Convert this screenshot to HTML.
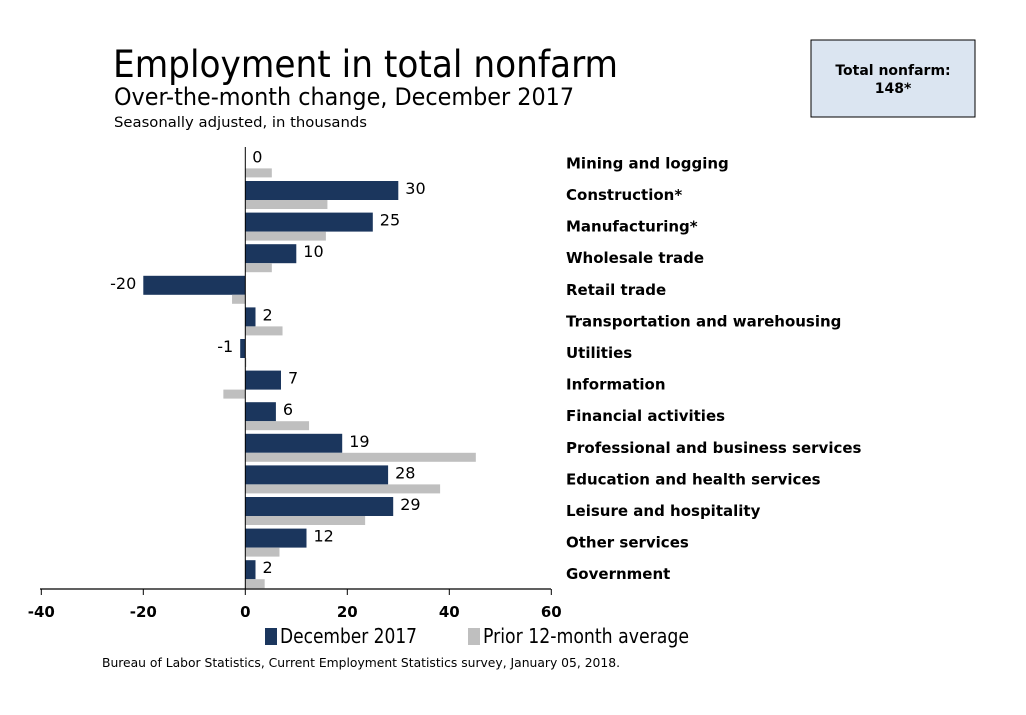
<!DOCTYPE html>
<html><head><meta charset="utf-8"><style>
body{margin:0;background:#fff;width:1026px;height:715px;overflow:hidden;font-family:"DejaVu Sans","Liberation Sans",sans-serif}
svg{position:absolute;left:0;top:0}
</style></head><body>
<svg width="1026" height="715">
<text x="113" y="77" font-family="DejaVu Sans Condensed, DejaVu Sans, sans-serif" font-size="37" textLength="505" lengthAdjust="spacingAndGlyphs" fill="#000">Employment in total nonfarm</text>
<text x="114" y="105" font-family="DejaVu Sans Condensed, DejaVu Sans, sans-serif" font-size="24" textLength="460" lengthAdjust="spacingAndGlyphs" fill="#000">Over-the-month change, December 2017</text>
<text x="114" y="127" font-size="14" fill="#000" textLength="253" lengthAdjust="spacingAndGlyphs">Seasonally adjusted, in thousands</text>
<rect x="811" y="40" width="164" height="77" fill="#dbe5f1" stroke="#000" stroke-width="1"/>
<text x="893" y="75" text-anchor="middle" font-size="14" font-weight="bold">Total nonfarm:</text>
<text x="893" y="93" text-anchor="middle" font-size="14" font-weight="bold">148*</text>
<g id="plot"></g>
<rect x="265" y="628" width="12" height="17" fill="#1b365d"/>
<text x="280" y="643" font-family="DejaVu Sans Condensed, DejaVu Sans, sans-serif" font-size="20" textLength="137" lengthAdjust="spacingAndGlyphs">December 2017</text>
<rect x="468" y="628" width="12" height="17" fill="#bfbfbf"/>
<text x="483" y="643" font-family="DejaVu Sans Condensed, DejaVu Sans, sans-serif" font-size="20" textLength="206" lengthAdjust="spacingAndGlyphs">Prior 12-month average</text>
<text x="102" y="667" font-family="DejaVu Sans Condensed, DejaVu Sans, sans-serif" font-size="12.5" textLength="518" lengthAdjust="spacingAndGlyphs">Bureau of Labor Statistics, Current Employment Statistics survey, January 05, 2018.</text>
</svg>
<script>
const categories=["Mining and logging","Construction*","Manufacturing*","Wholesale trade","Retail trade","Transportation and warehousing","Utilities","Information","Financial activities","Professional and business services","Education and health services","Leisure and hospitality","Other services","Government"];
const decValues=[0,30,25,10,-20,2,-1,7,6,19,28,29,12,2];
const avgValues=[5.2,16.1,15.8,5.2,-2.6,7.3,0.2,-4.3,12.5,45.2,38.2,23.5,6.7,3.8];
const xTicks=[-40,-20,0,20,40,60];
const NS="http://www.w3.org/2000/svg";
const g=document.getElementById('plot');
const x=v=>245.3+v*5.1;
const rowTop=i=>149.4+i*31.6;
function mk(t,a){const e=document.createElementNS(NS,t);for(const k in a)e.setAttribute(k,a[k]);g.appendChild(e);return e;}
categories.forEach((c,i)=>{
  const y=rowTop(i);
  const d=decValues[i];
  const r=mk('rect',{x:Math.min(x(0),x(d)),y:y,width:Math.abs(x(d)-x(0)),height:19,fill:'#1b365d'});
  
  
  const a=avgValues[i];
  const r2=mk('rect',{x:Math.min(x(0),x(a)),y:y+19,width:Math.abs(x(a)-x(0)),height:9,fill:'#bfbfbf'});
  
  
  const lt=mk('text',{x:d>=0?x(d)+7:x(d)-7,y:y+13,'font-size':16,'text-anchor':d>=0?'start':'end'});
  lt.textContent=String(d);
  
  
  const cl=mk('text',{x:566,y:y+19,'font-size':15,'font-weight':'bold'});
  cl.textContent=c;
  
  
});
const yax=mk('line',{x1:x(0),x2:x(0),y1:147,y2:589,stroke:'#000','stroke-width':1});


const xax=mk('line',{x1:40,x2:551,y1:589,y2:589,stroke:'#000','stroke-width':1.3});


xTicks.forEach(t=>{
  const tk=mk('line',{x1:x(t),x2:x(t),y1:589,y2:595,stroke:'#000'});
  
  
  const tl=mk('text',{x:x(t),y:617,'font-size':15,'font-weight':'bold','text-anchor':'middle'});
  tl.textContent=String(t);
  
  
});
</script>
</body></html>
